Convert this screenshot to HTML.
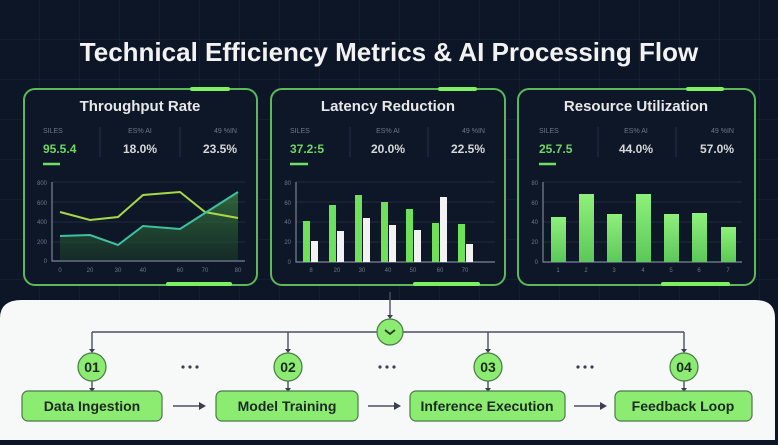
<!DOCTYPE html>
<html><head><meta charset="utf-8"><style>
body{margin:0;width:778px;height:440px;overflow:hidden;background:#0c1626;font-family:"Liberation Sans",sans-serif}
</style></head><body>
<svg width="778" height="440" xmlns="http://www.w3.org/2000/svg" font-family="Liberation Sans, sans-serif">
<defs>
<pattern id="g" width="40" height="40" patternUnits="userSpaceOnUse"><path d="M40 0V40H0" fill="none" stroke="#1a2638" stroke-width="1"/></pattern>
<linearGradient id="ar" x1="0" y1="0" x2="0" y2="1"><stop offset="0" stop-color="#3a7a40" stop-opacity=".8"/><stop offset="1" stop-color="#1a3a28" stop-opacity=".6"/></linearGradient>
<linearGradient id="bg" x1="0" y1="0" x2="0" y2="1"><stop offset="0" stop-color="#8ef07a"/><stop offset="1" stop-color="#5cc85a"/></linearGradient>
</defs>
<rect width="778" height="440" fill="#0c1626"/>
<rect width="778" height="300" fill="url(#g)"/>
<text x="389" y="61" text-anchor="middle" fill="#f2f2f2" font-size="26" font-weight="bold">Technical Efficiency Metrics &amp; AI Processing Flow</text>

<!-- panels -->
<g fill="#0d1728" stroke="#5db85a" stroke-width="2">
<rect x="24" y="89" width="233" height="196" rx="11"/>
<rect x="271" y="89" width="234" height="196" rx="11"/>
<rect x="518" y="89" width="237" height="196" rx="11"/>
</g>
<g stroke="#7cf060" stroke-width="4" stroke-linecap="round">
<line x1="192" y1="89" x2="228" y2="89"/><line x1="168" y1="284" x2="230" y2="284"/>
<line x1="440" y1="89" x2="475" y2="89"/><line x1="415" y1="284" x2="478" y2="284"/>
<line x1="688" y1="89" x2="722" y2="89"/><line x1="663" y1="284" x2="728" y2="284"/>
</g>
<g fill="#e8e8e8" font-size="15" font-weight="bold" text-anchor="middle">
<text x="140" y="111">Throughput Rate</text><text x="388" y="111">Latency Reduction</text><text x="636" y="111">Resource Utilization</text>
</g>
<!-- stats -->
<g font-size="7" fill="#6d7788">
<text x="43" y="133">SILES</text><text x="140" y="133" text-anchor="middle">ES% AI</text><text x="237" y="133" text-anchor="end">49 %IN</text>
<text x="290" y="133">SILES</text><text x="388" y="133" text-anchor="middle">ES% AI</text><text x="485" y="133" text-anchor="end">49 %IN</text>
<text x="539" y="133">SILES</text><text x="636" y="133" text-anchor="middle">ES% AI</text><text x="734" y="133" text-anchor="end">49 %IN</text>
</g>
<g stroke="#243246" stroke-width="1"><line x1="100" y1="127" x2="100" y2="157"/><line x1="180" y1="127" x2="180" y2="157"/><line x1="350" y1="127" x2="350" y2="157"/><line x1="428" y1="127" x2="428" y2="157"/><line x1="598" y1="127" x2="598" y2="157"/><line x1="676" y1="127" x2="676" y2="157"/></g>
<g font-size="12" font-weight="bold" fill="#d8d8d8">
<text x="43" y="153" fill="#6fd860">95.5.4</text><text x="140" y="153" text-anchor="middle">18.0%</text><text x="237" y="153" text-anchor="end">23.5%</text>
<text x="290" y="153" fill="#6fd860">37.2:5</text><text x="388" y="153" text-anchor="middle">20.0%</text><text x="485" y="153" text-anchor="end">22.5%</text>
<text x="539" y="153" fill="#6fd860">25.7.5</text><text x="636" y="153" text-anchor="middle">44.0%</text><text x="734" y="153" text-anchor="end">57.0%</text>
</g>
<g stroke="#6fe060" stroke-width="2.5"><line x1="43" y1="164" x2="60" y2="164"/><line x1="290" y1="164" x2="308" y2="164"/><line x1="539" y1="164" x2="556" y2="164"/></g>

<!-- chart grid & axes -->
<g stroke="#1e2b3d" stroke-width="1">
<line x1="52" y1="182" x2="245" y2="182"/><line x1="52" y1="202" x2="245" y2="202"/><line x1="52" y1="222" x2="245" y2="222"/><line x1="52" y1="242" x2="245" y2="242"/>
<line x1="296" y1="182" x2="495" y2="182"/><line x1="296" y1="202" x2="495" y2="202"/><line x1="296" y1="222" x2="495" y2="222"/><line x1="296" y1="242" x2="495" y2="242"/>
<line x1="543" y1="182" x2="742" y2="182"/><line x1="543" y1="202" x2="742" y2="202"/><line x1="543" y1="222" x2="742" y2="222"/><line x1="543" y1="242" x2="742" y2="242"/>
</g>
<g stroke="#7b8494" stroke-width="1.2" fill="none">
<path d="M52 182V261H245"/><path d="M296 182V262H495"/><path d="M543 182V262H742"/>
</g>
<g font-size="6" fill="#6d7788" text-anchor="end">
<text x="47" y="185">800</text><text x="47" y="205">600</text><text x="47" y="224">400</text><text x="47" y="244">200</text><text x="47" y="263">0</text>
<text x="291" y="185">80</text><text x="291" y="205">60</text><text x="291" y="224">40</text><text x="291" y="244">20</text><text x="291" y="264">0</text>
<text x="538" y="185">80</text><text x="538" y="205">60</text><text x="538" y="224">40</text><text x="538" y="244">20</text><text x="538" y="264">0</text>
</g>
<g font-size="6" fill="#6d7788" text-anchor="middle">
<text x="60" y="272">0</text><text x="90" y="272">20</text><text x="118" y="272">30</text><text x="143" y="272">40</text><text x="180" y="272">60</text><text x="205" y="272">70</text><text x="238" y="272">80</text>
<text x="311" y="272">8</text><text x="337" y="272">20</text><text x="362" y="272">30</text><text x="388" y="272">40</text><text x="413" y="272">50</text><text x="440" y="272">60</text><text x="465" y="272">70</text>
<text x="558" y="272">1</text><text x="586" y="272">2</text><text x="614" y="272">3</text><text x="643" y="272">4</text><text x="671" y="272">5</text><text x="699" y="272">6</text><text x="728" y="272">7</text>
</g>
<!-- line chart -->
<path d="M60 236L90 235L118 245L143 226L180 229L205 213L238 192V260H60Z" fill="url(#ar)"/>
<polyline points="60,212 90,220 118,217 143,195 180,192 205,212 238,218" fill="none" stroke="#a8d848" stroke-width="2"/>
<polyline points="60,236 90,235 118,245 143,226 180,229 205,213 238,192" fill="none" stroke="#3fc0a0" stroke-width="2"/>
<!-- latency bars -->
<g fill="#6ee05a">
<rect x="303" y="221" width="7" height="41"/><rect x="329" y="205" width="7" height="57"/><rect x="355" y="195" width="7" height="67"/><rect x="381" y="202" width="7" height="60"/><rect x="406" y="209" width="7" height="53"/><rect x="432" y="223" width="7" height="39"/><rect x="458" y="224" width="7" height="38"/>
</g>
<g fill="#f2f2f2">
<rect x="311" y="241" width="7" height="21"/><rect x="337" y="231" width="7" height="31"/><rect x="363" y="218" width="7" height="44"/><rect x="389" y="225" width="7" height="37"/><rect x="414" y="230" width="7" height="32"/><rect x="440" y="197" width="7" height="65"/><rect x="466" y="244" width="7" height="18"/>
</g>
<!-- resource bars -->
<g fill="url(#bg)">
<rect x="551" y="217" width="15" height="45"/><rect x="579" y="194" width="15" height="68"/><rect x="607" y="214" width="15" height="48"/><rect x="636" y="194" width="15" height="68"/><rect x="664" y="214" width="15" height="48"/><rect x="692" y="213" width="15" height="49"/><rect x="721" y="227" width="15" height="35"/>
</g>

<!-- white flow section -->
<path d="M0 318Q0 300 22 300H755Q775 300 775 318V440H0Z" fill="#f7f8f8"/>
<g stroke="#4a5060" stroke-width="1.4" fill="none">
<line x1="390" y1="292" x2="390" y2="316"/>
<line x1="92" y1="332" x2="684" y2="332"/>
<line x1="92" y1="332" x2="92" y2="350"/><line x1="288" y1="332" x2="288" y2="350"/><line x1="488" y1="332" x2="488" y2="350"/><line x1="684" y1="332" x2="684" y2="350"/>
<line x1="92" y1="380" x2="92" y2="390"/><line x1="288" y1="380" x2="288" y2="390"/><line x1="488" y1="380" x2="488" y2="390"/><line x1="684" y1="380" x2="684" y2="390"/>
<line x1="173" y1="406" x2="200" y2="406"/><line x1="368" y1="406" x2="395" y2="406"/><line x1="574" y1="406" x2="601" y2="406"/>
</g>
<g fill="#3a4050">
<path d="M387 315h6l-3 4z"/>
<path d="M89 349h6l-3 4z"/><path d="M285 349h6l-3 4z"/><path d="M485 349h6l-3 4z"/><path d="M681 349h6l-3 4z"/>
<path d="M89 388h6l-3 4z"/><path d="M285 388h6l-3 4z"/><path d="M485 388h6l-3 4z"/><path d="M681 388h6l-3 4z"/>
<path d="M199 402v8l7-4z"/><path d="M394 402v8l7-4z"/><path d="M600 402v8l7-4z"/>
<circle cx="183" cy="367" r="1.6"/><circle cx="190" cy="367" r="1.6"/><circle cx="197" cy="367" r="1.6"/>
<circle cx="380" cy="367" r="1.6"/><circle cx="387" cy="367" r="1.6"/><circle cx="394" cy="367" r="1.6"/>
<circle cx="578" cy="367" r="1.6"/><circle cx="585" cy="367" r="1.6"/><circle cx="592" cy="367" r="1.6"/>
</g>
<g fill="#8cec72" stroke="#4a7a48" stroke-width="1.2">
<circle cx="390" cy="332" r="13"/>
<circle cx="92" cy="367" r="14"/><circle cx="288" cy="367" r="14"/><circle cx="488" cy="367" r="14"/><circle cx="684" cy="367" r="14"/>
<rect x="22" y="391" width="140" height="30" rx="6"/><rect x="216" y="391" width="142" height="30" rx="6"/><rect x="410" y="391" width="155" height="30" rx="6"/><rect x="615" y="391" width="137" height="30" rx="6"/>
</g>
<path d="M385 330l5 4 5-4" fill="none" stroke="#2a3a30" stroke-width="1.8"/>
<g fill="#1d2a22" font-weight="bold" text-anchor="middle">
<text x="92" y="372" font-size="14">01</text><text x="288" y="372" font-size="14">02</text><text x="488" y="372" font-size="14">03</text><text x="684" y="372" font-size="14">04</text>
<text x="92" y="411" font-size="14">Data Ingestion</text><text x="287" y="411" font-size="14">Model Training</text><text x="487" y="411" font-size="14">Inference Execution</text><text x="683" y="411" font-size="14">Feedback Loop</text>
</g>
</svg>
</body></html>
